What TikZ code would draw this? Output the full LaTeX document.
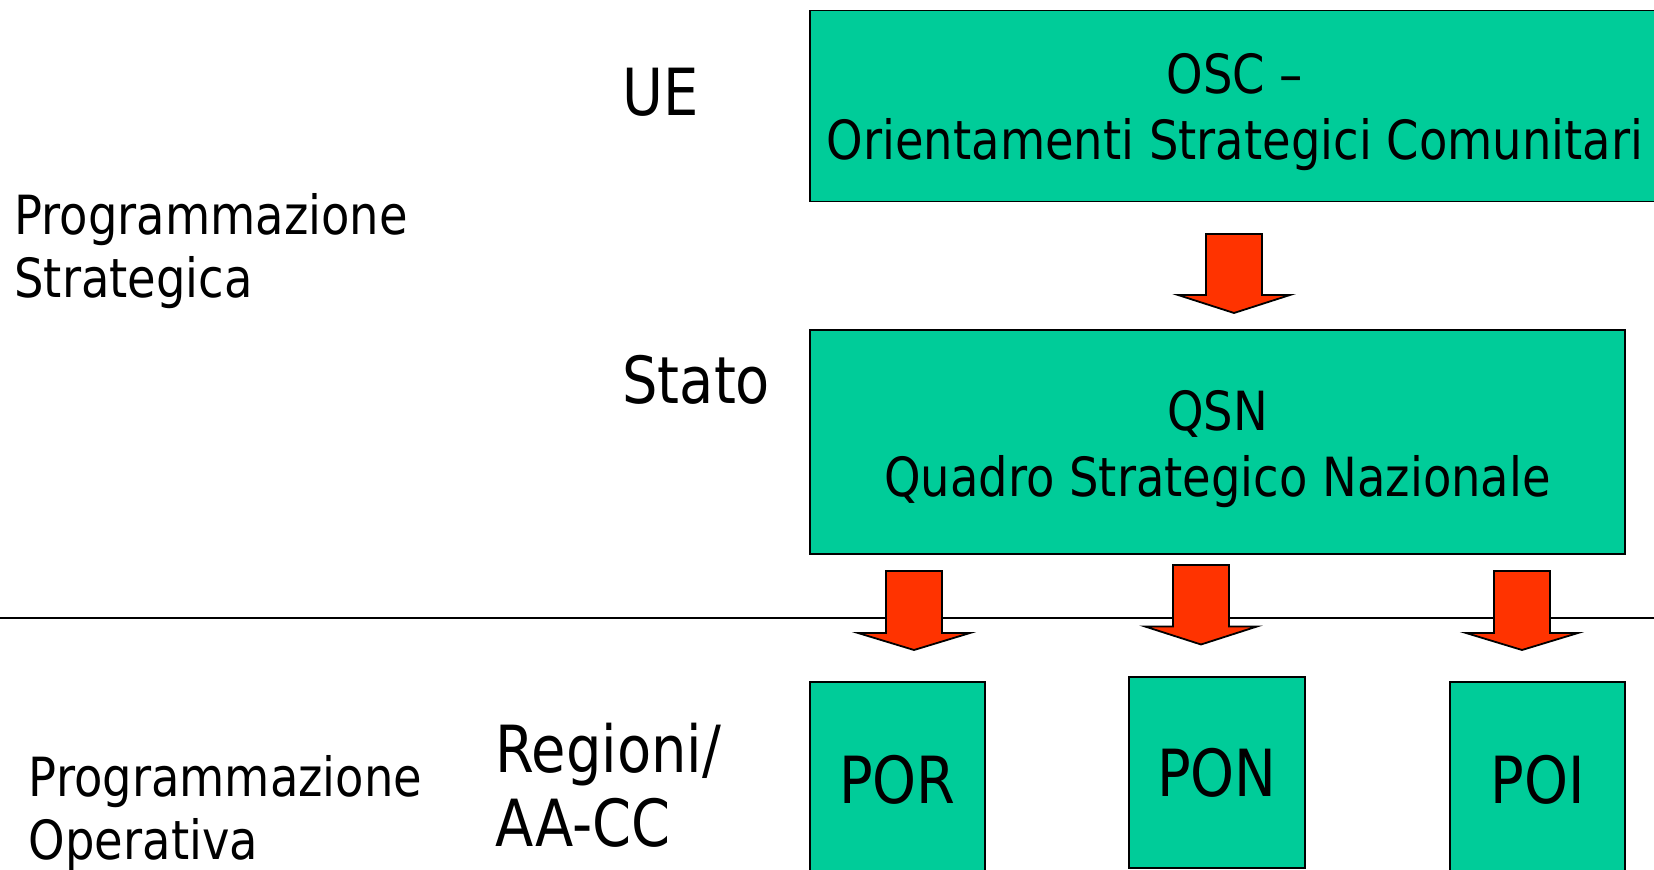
\documentclass[tikz,border=0pt]{standalone}
\usepackage{fontspec}
\setmainfont{DejaVu Sans}[FakeStretch=0.86]
\usetikzlibrary{positioning}
\definecolor{boxgreen}{RGB}{0,204,153}
\definecolor{arrowred}{RGB}{255,51,0}
\tikzset{level/.style={rectangle,draw=black,fill=boxgreen,line width=0.8pt,align=center,inner sep=0pt,font=\fontsize{27}{33}\selectfont}}
\tikzset{prog/.style={rectangle,draw=none,align=left,inner sep=0pt,anchor=base west,font=\fontsize{27}{31.5}\selectfont}}
\tikzset{actor/.style={rectangle,draw=none,align=left,inner sep=0pt,anchor=base west,font=\fontsize{32.5}{37}\selectfont}}
\tikzset{blockarrow/.style={draw=black,fill=arrowred,line width=0.9pt,line join=miter}}
\newcommand{\downblock}[4]{% centre x, top, wings, tip
  \draw[blockarrow] (#1-28,#2) -- (#1+28,#2) -- (#1+28,#3) -- (#1+56,#3)
    -- (#1,#4) -- (#1-56,#3) -- (#1-28,#3) -- cycle;}
\newcommand{\twolines}[3]{\raisebox{#1}[\height][\depth]{\begin{tabular}{@{}c@{}}#2\\#3\end{tabular}}}

\begin{document}
\begin{tikzpicture}[x=0.5pt,y=-0.5pt]
  \useasboundingbox (0,0) rectangle (1654,870);

  % boxes
  \node [level,minimum width=425pt,minimum height=95.5pt] (osc) at (1235,106)
    {\twolines{-3.7pt}{OSC --}{Orientamenti Strategici Comunitari}};
  \node [level,minimum width=407.5pt,minimum height=112pt] (qsn) at (1217.5,442)
    {\twolines{-4.2pt}{QSN}{Quadro Strategico Nazionale}};
  \node [level,minimum width=87.5pt,minimum height=98pt,font=\fontsize{32.5}{37}\selectfont] (por) at (897.5,780) {POR};
  \node [level,minimum width=88pt,minimum height=95.5pt,font=\fontsize{32.5}{37}\selectfont] (pon) at (1217,772.5) {PON};
  \node [level,minimum width=87.5pt,minimum height=98pt,font=\fontsize{32.5}{37}\selectfont] (poi) at (1537.5,780) {POI};

  % labels (base is the last line)
  \node [actor] (ue) at (622,116) {UE};
  \node [actor] (stato) at (622,404) {Stato};
  \node [actor] (regioni) at (495,846) {Regioni/\\AA-CC};
  \node [prog] (strategica) at (14,298) {Programmazione\\Strategica};
  \node [prog] (operativa) at (28.5,859) {Programmazione\\Operativa};

  % separation line
  \coordinate (sepL) at (0,618);
  \coordinate (sepR) at (1654,618);
  \draw [line width=1pt] (sepL) -- (sepR);

  % arrows
  \downblock{1234}{234}{295}{313}
  \downblock{914}{571}{633}{650}
  \downblock{1201}{565}{626.5}{644.5}
  \downblock{1522}{571}{633}{650}
\end{tikzpicture}
\end{document}
